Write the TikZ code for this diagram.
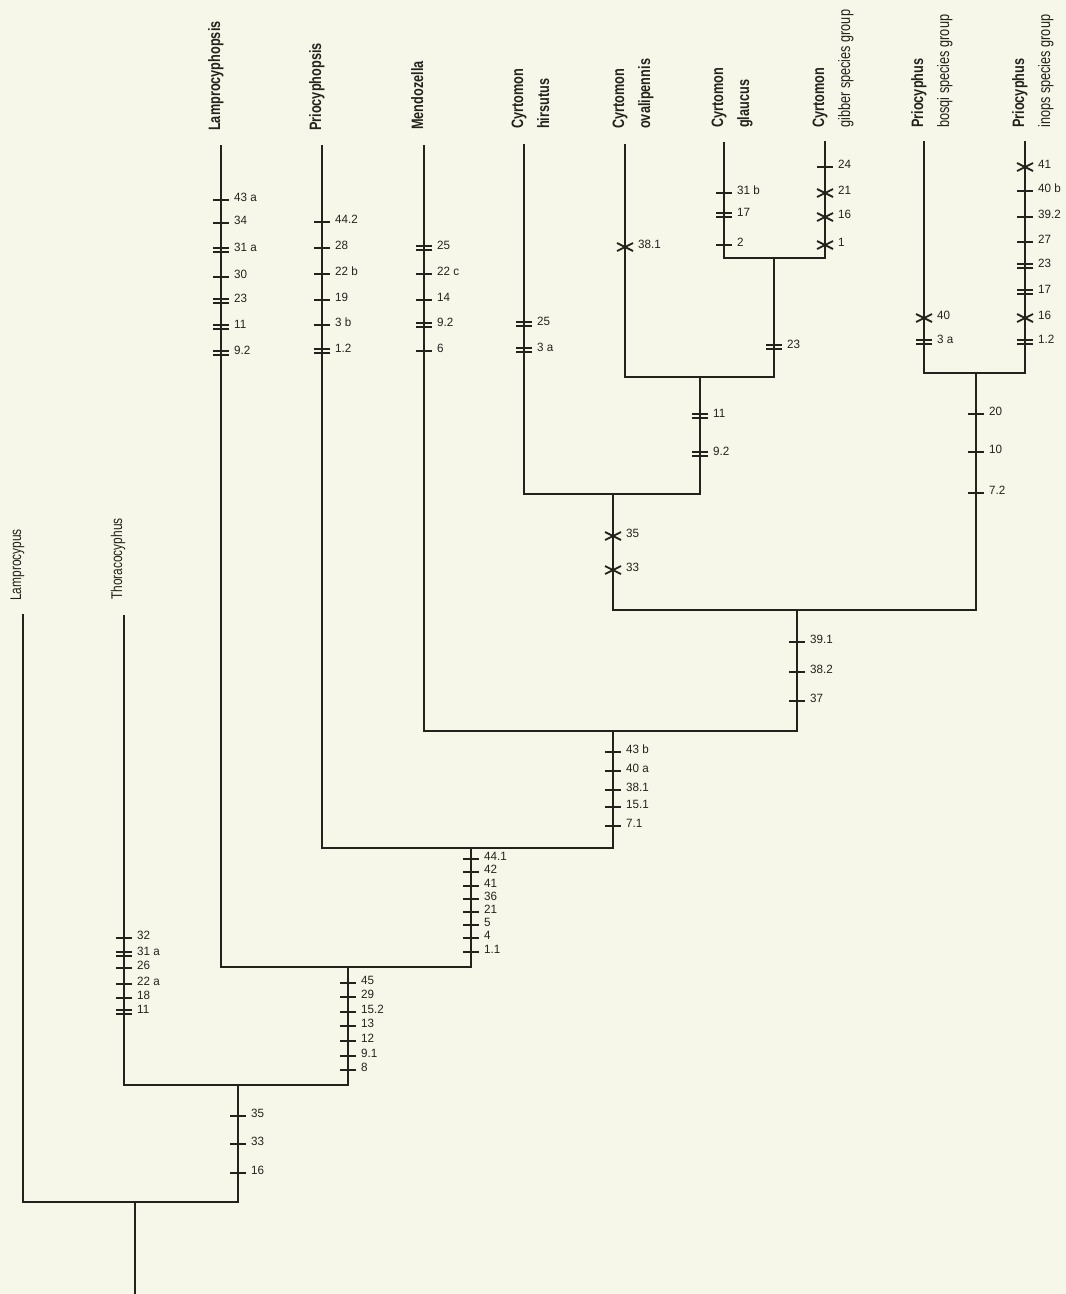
\documentclass[tikz,border=0pt]{standalone}
\usepackage{fontspec}
\newfontfamily\leaffont{Liberation Sans}[FakeStretch=0.77]
\newfontfamily\numfont{Liberation Sans}[FakeStretch=0.97]
\definecolor{paper}{RGB}{247,247,233}
\definecolor{ink}{RGB}{35,35,30}
\newcount\mkcount
\newcommand\mklabel[3]{%
  \global\advance\mkcount by 1
  \edef\mkname{mk\the\mkcount}%
  \node[numlbl] (\mkname) at (#1+13,#2+1) {#3};}
\newcommand\stk[3]{\draw[tick] (#1-8,#2) -- (#1+8,#2); \mklabel{#1}{#2}{#3}}
\newcommand\dtk[3]{\draw[tick] (#1-8,#2-2) -- (#1+8,#2-2) (#1-8,#2+2) -- (#1+8,#2+2); \mklabel{#1}{#2}{#3}}
\newcommand\xtk[3]{\draw[tick] (#1-8,#2-4) -- (#1+8,#2+4) (#1-8,#2+4) -- (#1+8,#2-4); \mklabel{#1}{#2}{#3}}
\newcommand\twoline[2]{\vtop{\baselineskip=26pt\lineskiplimit=-100pt\hbox{#1}\hbox{#2}}}
\begin{document}
\begin{tikzpicture}[x=1pt,y=-1pt,
  br/.style={draw=ink,line width=1.9pt,line join=miter,line cap=rect},
  tick/.style={draw=ink,line width=1.8pt},
  numlbl/.style={anchor=base west,inner sep=0pt,text=ink,font=\numfont\fontsize{12}{14}\selectfont},
  leaf/.style={rotate=90,anchor=base west,inner sep=0pt,text=ink,font=\leaffont\bfseries\fontsize{16.5}{19}\selectfont},
  leafr/.style={leaf,font=\leaffont\fontsize{15.5}{18}\selectfont}]
\useasboundingbox (0,0) rectangle (1066,1294);
\fill[paper] (0,0) rectangle (1066,1294);
% leaf tips
\coordinate (tLA) at (23,615);
\coordinate (tTH) at (124,616);
\coordinate (tLP) at (221,146);
\coordinate (tPP) at (322,146);
\coordinate (tME) at (424,146);
\coordinate (tCH) at (524,145);
\coordinate (tCO) at (625,145);
\coordinate (tCG) at (724,143);
\coordinate (tCB) at (825,142);
\coordinate (tPB) at (924,142);
\coordinate (tPI) at (1025,142);
% junctions
\coordinate (n1) at (774,258);
\coordinate (n2) at (700,377);
\coordinate (n3) at (613,494);
\coordinate (n4) at (976,373);
\coordinate (n5) at (797,610);
\coordinate (n6) at (613,731);
\coordinate (n7) at (471,848);
\coordinate (n8) at (348,967);
\coordinate (n9) at (238,1085);
\coordinate (n10) at (135,1202);
\coordinate (root) at (135,1294);
% branches
\draw[br] (tCG) |- (n1) -| (tCB);
\draw[br] (tCO) |- (n2) -| (n1);
\draw[br] (tCH) |- (n3) -| (n2);
\draw[br] (tPB) |- (n4) -| (tPI);
\draw[br] (n3) |- (n5) -| (n4);
\draw[br] (tME) |- (n6) -| (n5);
\draw[br] (tPP) |- (n7) -| (n6);
\draw[br] (tLP) |- (n8) -| (n7);
\draw[br] (tTH) |- (n9) -| (n8);
\draw[br] (tLA) |- (n10) -| (n9);
\draw[br] (n10) -- (root);
% leaf labels
\node[leafr] (lLA) at (21,601) {Lamprocypus};
\node[leafr] (lTH) at (122,600) {Thoracocyphus};
\node[leaf] (lLP) at (220,131) {Lamprocyphopsis};
\node[leaf] (lPP) at (321,131) {Priocyphopsis};
\node[leaf] (lME) at (423,130) {Mendozella};
\node[leaf] (lCH) at (523,129) {\twoline{Cyrtomon}{hirsutus}};
\node[leaf] (lCO) at (624,129) {\twoline{Cyrtomon}{ovalipennis}};
\node[leaf] (lCG) at (723,128) {\twoline{Cyrtomon}{glaucus}};
\node[leaf] (lCB) at (824,128) {\twoline{Cyrtomon}{\mdseries gibber species group}};
\node[leaf] (lPB) at (923,128) {\twoline{Priocyphus}{\mdseries bosqi species group}};
\node[leaf] (lPI) at (1024,128) {\twoline{Priocyphus}{\mdseries inops species group}};
% character marks
\stk{221}{200}{43 a}\stk{221}{223}{34}\dtk{221}{250}{31 a}\stk{221}{277}{30}\dtk{221}{301}{23}\dtk{221}{327}{11}\dtk{221}{353}{9.2}
\stk{322}{222}{44.2}\stk{322}{248}{28}\stk{322}{274}{22 b}\stk{322}{300}{19}\stk{322}{325}{3 b}\dtk{322}{351}{1.2}
\dtk{424}{248}{25}\stk{424}{274}{22 c}\stk{424}{300}{14}\dtk{424}{325}{9.2}\stk{424}{351}{6}
\dtk{524}{324}{25}\dtk{524}{350}{3 a}
\xtk{625}{247}{38.1}
\stk{724}{193}{31 b}\dtk{724}{215}{17}\stk{724}{245}{2}
\stk{825}{167}{24}\xtk{825}{193}{21}\xtk{825}{217}{16}\xtk{825}{245}{1}
\dtk{774}{347}{23}
\dtk{700}{416}{11}\dtk{700}{454}{9.2}
\xtk{924}{318}{40}\dtk{924}{342}{3 a}
\xtk{1025}{167}{41}\stk{1025}{191}{40 b}\stk{1025}{217}{39.2}\stk{1025}{242}{27}\dtk{1025}{266}{23}\dtk{1025}{292}{17}\xtk{1025}{318}{16}\dtk{1025}{342}{1.2}
\stk{976}{414}{20}\stk{976}{452}{10}\stk{976}{493}{7.2}
\xtk{613}{536}{35}\xtk{613}{570}{33}
\stk{797}{642}{39.1}\stk{797}{672}{38.2}\stk{797}{701}{37}
\stk{613}{752}{43 b}\stk{613}{771}{40 a}\stk{613}{790}{38.1}\stk{613}{807}{15.1}\stk{613}{826}{7.1}
\stk{471}{859}{44.1}\stk{471}{872}{42}\stk{471}{886}{41}\stk{471}{899}{36}\stk{471}{912}{21}\stk{471}{925}{5}\stk{471}{938}{4}\stk{471}{952}{1.1}
\stk{348}{983}{45}\stk{348}{997}{29}\stk{348}{1012}{15.2}\stk{348}{1026}{13}\stk{348}{1041}{12}\stk{348}{1056}{9.1}\stk{348}{1070}{8}
\stk{124}{938}{32}\dtk{124}{954}{31 a}\stk{124}{968}{26}\stk{124}{984}{22 a}\stk{124}{998}{18}\dtk{124}{1012}{11}
\stk{238}{1116}{35}\stk{238}{1144}{33}\stk{238}{1173}{16}
\end{tikzpicture}
\end{document}
